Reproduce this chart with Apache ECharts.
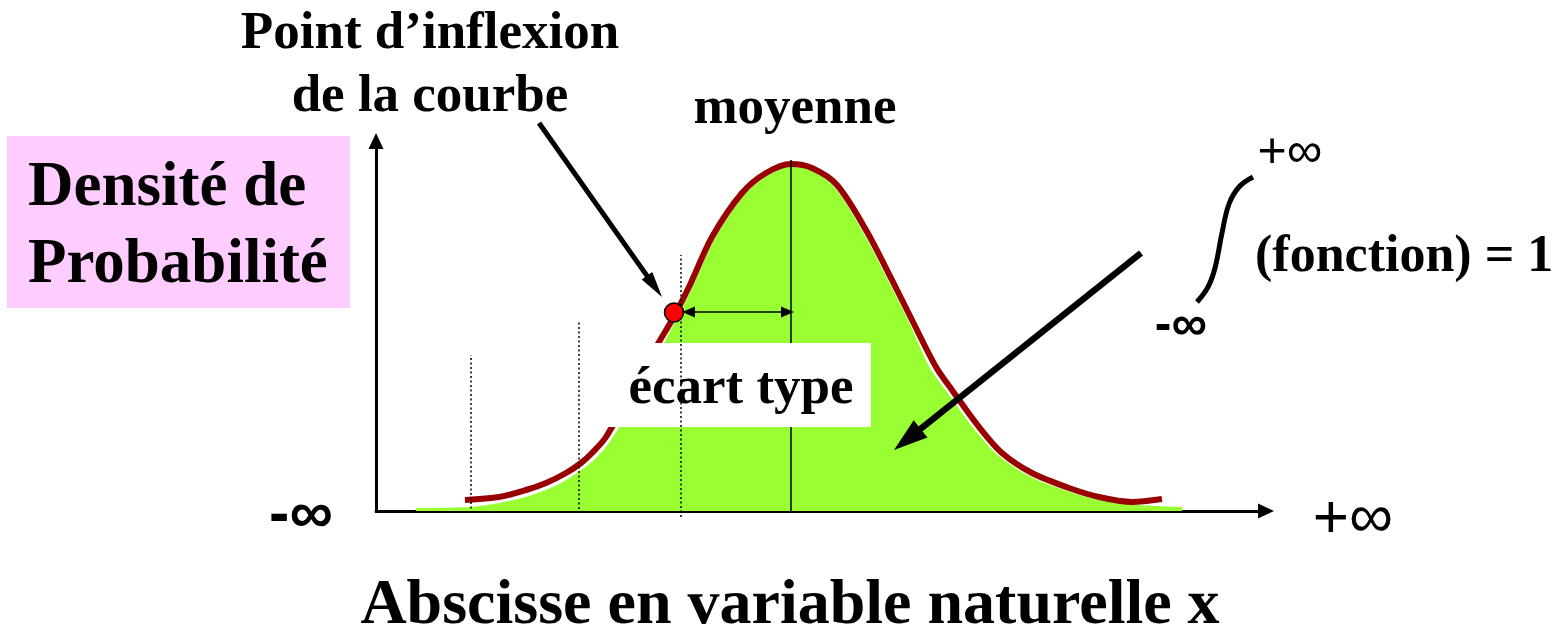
<!DOCTYPE html>
<html>
<head>
<meta charset="utf-8">
<script src="https://cdn.jsdelivr.net/npm/echarts@6/dist/echarts.min.js"></script>
<style>
html,body{margin:0;padding:0;background:#fff;}
#chart{width:1566px;height:634px;}
</style>
</head>
<body>
<div id="chart"></div>
<script>
// ---- Data (abscissa in arbitrary units, density in arbitrary units) ----
const xMin = 0, xMax = 89, yMin = 0, yMax = 37;

// red density curve
const curveX = [8.9, 12.3, 15.0, 17.0, 19.0, 20.5, 21.6, 23.0, 25.9, 28.3, 29.6, 31.3, 33.6, 36.6, 39.0, 41.5, 43.6, 46.1, 49.0, 51.6, 53.6, 56.0, 57.6, 60.3, 62.6, 65.6, 69.3, 72.3, 75.6, 78.6];
const curveY = [1.1, 1.4, 2.1, 2.8, 3.8, 4.8, 5.8, 7.4, 12.6, 16.9, 19.1, 22.4, 27.4, 31.8, 33.8, 34.7, 34.3, 32.6, 28.1, 23.1, 19.1, 14.4, 12.1, 8.4, 5.8, 3.8, 2.3, 1.4, 0.9, 1.2];

// green filled area under the curve
const fillX = [4.0, 9.3, 12.3, 15.3, 18.3, 20.8, 22.1, 23.5, 26.3, 28.8, 30.0, 31.6, 33.9, 36.8, 39.1, 41.5, 43.6, 45.9, 48.7, 51.3, 53.3, 55.4, 57.1, 59.9, 62.3, 65.3, 69.1, 72.3, 76.3, 80.6];
const fillY = [0.3, 0.4, 0.8, 1.5, 2.7, 4.3, 5.4, 7.1, 11.9, 16.8, 19.1, 22.3, 27.3, 31.6, 33.5, 34.4, 34.0, 32.3, 27.9, 22.9, 18.9, 14.3, 11.9, 8.1, 5.5, 3.5, 2.0, 1.1, 0.6, 0.4];

// mean line
const meanX = 41.5, meanTop = 35.1;
// dotted sigma lines
const sigmaX = [30.5, 20.3, 9.5];
const sigmaTop = [25.6, 18.9, 15.6];
const sigmaBottom = [-0.6, 0.2, -0.2];
// inflexion point
const inflexion = [29.8, 19.85];
// standard deviation double arrow
const sdArrow = [[30.6, 19.9], [41.8, 19.9]];
// annotation arrows (data coords)
const inflexArrow = [[16.3, 38.8], [28.6, 21.4]];
const areaArrow = [[76.5, 25.8], [51.8, 6.1]];

// texts
const labelPoint1 = 'Point d\u2019inflexion';
const labelPoint2 = 'de la courbe';
const labelMean = 'moyenne';
const labelSd = 'écart type';
const labelY1 = 'Densité de';
const labelY2 = 'Probabilité';
const labelX = 'Abscisse en variable naturelle x';
const labelIntegral = '(fonction) = 1';
const labelMinusInf = '-\u221E';
const labelPlusInf = '+\u221E';

const zip = (a, b) => a.map((v, i) => [v, b[i]]);

const chart = echarts.init(document.getElementById('chart'), null, {renderer: 'canvas'});

const serif = '"Liberation Serif", "Times New Roman", serif';
const sans = '"Liberation Sans", "DejaVu Sans", sans-serif';

const sigmaSeries = sigmaX.map((x, i) => ({
  type: 'line', data: [[x, sigmaBottom[i]], [x, sigmaTop[i]]],
  symbol: 'none', clip: false, z: 20, silent: true,
  lineStyle: {color: '#000', width: 1.5, type: [2, 2.5]}
}));

chart.setOption({
  animation: false,
  grid: {left: 376, top: 141, width: 890, height: 370},
  xAxis: {
    type: 'value', min: xMin, max: xMax,
    axisLine: {show: true, onZero: false, symbol: ['none', 'triangle'], symbolSize: [15, 16], symbolOffset: [0, 0],
      lineStyle: {color: '#000', width: 3}},
    axisTick: {show: false}, axisLabel: {show: false}, splitLine: {show: false}
  },
  yAxis: {
    type: 'value', min: yMin, max: yMax,
    axisLine: {show: true, onZero: false, symbol: ['none', 'triangle'], symbolSize: [15, 16],
      lineStyle: {color: '#000', width: 3}},
    axisTick: {show: false}, axisLabel: {show: false}, splitLine: {show: false}
  },
  series: [
    {type: 'line', data: zip(fillX, fillY), smooth: 0.3, symbol: 'none', z: 2, silent: true,
      lineStyle: {width: 0}, areaStyle: {color: '#99FF33', opacity: 1}},
    {type: 'line', data: zip(curveX, curveY), smooth: 0.3, symbol: 'none', z: 3, silent: true,
      lineStyle: {color: '#990000', width: 6}},
    {type: 'line', data: [[meanX, 0], [meanX, meanTop]], symbol: 'none', z: 4, silent: true,
      lineStyle: {color: '#000', width: 1.5}},
    ...sigmaSeries,
    {type: 'scatter', data: [inflexion], symbol: 'circle', symbolSize: 19, z: 25, silent: true,
      itemStyle: {color: '#FF0000', borderColor: '#000', borderWidth: 1.5, opacity: 1}}
  ]
});

const px = p => chart.convertToPixel({gridIndex: 0}, p);

function arrow(p0, p1, lw, hl, hw, z, both) {
  const a = px(p0), b = px(p1);
  const dx = b[0] - a[0], dy = b[1] - a[1];
  const L = Math.hypot(dx, dy), ux = dx / L, uy = dy / L, nx = -uy, ny = ux;
  const els = [];
  const baseB = [b[0] - ux * hl, b[1] - uy * hl];
  let start = a;
  if (both) {
    const baseA = [a[0] + ux * hl, a[1] + uy * hl];
    els.push({type: 'polygon', z: z, shape: {points: [a, [baseA[0] + nx * hw / 2, baseA[1] + ny * hw / 2], [baseA[0] - nx * hw / 2, baseA[1] - ny * hw / 2]]}, style: {fill: '#000'}});
    start = [baseA[0] - ux, baseA[1] - uy];
  }
  els.push({type: 'line', z: z, shape: {x1: start[0], y1: start[1], x2: baseB[0] + ux, y2: baseB[1] + uy}, style: {stroke: '#000', lineWidth: lw}});
  els.push({type: 'polygon', z: z, shape: {points: [b, [baseB[0] + nx * hw / 2, baseB[1] + ny * hw / 2], [baseB[0] - nx * hw / 2, baseB[1] - ny * hw / 2]]}, style: {fill: '#000'}});
  return els;
}

function txt(text, x, y, size, align, fam, weight) {
  return {type: 'text', z: 30, style: {text: text, x: x, y: y, fill: '#000', align: align, verticalAlign: 'middle',
    font: (weight || 'bold') + ' ' + size + 'px ' + (fam || serif)}};
}

const g = [];
g.push({type: 'rect', z: 1, shape: {x: 7, y: 136, width: 343, height: 172}, style: {fill: '#FFCCFF'}});
g.push({type: 'rect', z: 10, shape: {x: 592, y: 343, width: 279, height: 84}, style: {fill: '#FFFFFF'}});
g.push(...arrow(inflexArrow[0], inflexArrow[1], 5, 26, 13, 30, false));
g.push(...arrow(areaArrow[0], areaArrow[1], 6.5, 34, 22, 30, false));
g.push(...arrow(sdArrow[0], sdArrow[1], 1.5, 13, 11, 30, true));
// integral sign
g.push({type: 'polyline', z: 30, shape: {points: [[1197, 302], [1208, 287], [1215, 268], [1222, 233], [1229, 204], [1239, 187], [1253, 177]], smooth: 0.4},
  style: {stroke: '#000', lineWidth: 5, fill: null}});

const t = (base, size) => base - 0.30 * size;
g.push(txt(labelPoint1, 430, t(50, 53), 53, 'center'));
g.push(txt(labelPoint2, 430, t(113, 53), 53, 'center'));
g.push(txt(labelMean, 795, t(125, 53), 53, 'center'));
g.push(txt(labelSd, 741, t(405, 53), 53, 'center'));
g.push(txt(labelY1, 28, t(208, 63), 63, 'left'));
g.push(txt(labelY2, 28, t(285, 63), 63, 'left'));
g.push(txt(labelX, 790, t(626, 64), 64, 'center'));
g.push(txt(labelIntegral, 1255, t(273, 52), 52, 'left'));
g.push(txt(labelMinusInf, 301, 516, 61, 'center', sans, 'bold'));
g.push(txt(labelPlusInf, 1353, 520, 62, 'center', sans, 'normal'));
g.push(txt(labelPlusInf, 1290, 153, 50, 'center', sans, 'normal'));
g.push(txt(labelMinusInf, 1181, 326, 50, 'center', sans, 'bold'));

chart.setOption({graphic: {elements: g}});
</script>
</body>
</html>
